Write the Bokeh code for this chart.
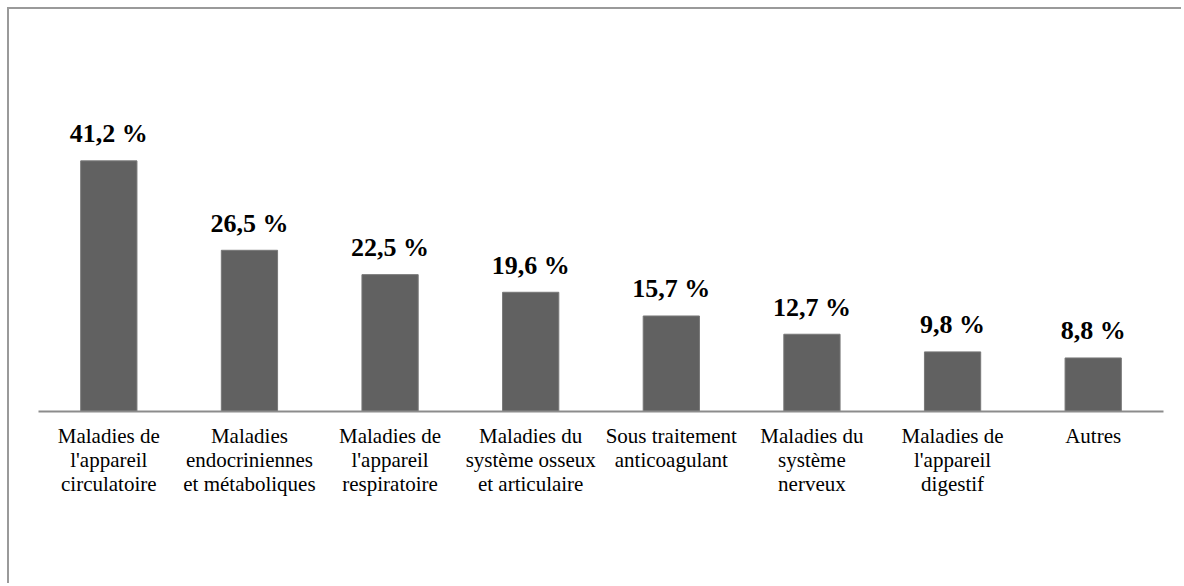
from bokeh.plotting import figure
from bokeh.models import ColumnDataSource, Range1d, FactorRange, CategoricalAxis, CustomJSTickFormatter
from bokeh.core.properties import value
from bokeh.embed import file_html
from bokeh.resources import INLINE

categories = [
    "Maladies de l'appareil circulatoire",
    "Maladies endocriniennes et métaboliques",
    "Maladies de l'appareil respiratoire",
    "Maladies du système osseux et articulaire",
    "Sous traitement anticoagulant",
    "Maladies du système nerveux",
    "Maladies de l'appareil digestif",
    "Autres",
]
label_lines = [
    ["Maladies de", "l'appareil", "circulatoire"],
    ["Maladies", "endocriniennes", "et métaboliques"],
    ["Maladies de", "l'appareil", "respiratoire"],
    ["Maladies du", "système osseux", "et articulaire"],
    ["Sous traitement", "anticoagulant", ""],
    ["Maladies du", "système", "nerveux"],
    ["Maladies de", "l'appareil", "digestif"],
    ["Autres", "", ""],
]
values = [41.2, 26.5, 22.5, 19.6, 15.7, 12.7, 9.8, 8.8]
value_labels = ["41,2 %", "26,5 %", "22,5 %", "19,6 %", "15,7 %", "12,7 %", "9,8 %", "8,8 %"]

source = ColumnDataSource(data=dict(cat=categories, val=values, lab=value_labels))

p = figure(
    x_range=FactorRange(factors=categories),
    y_range=Range1d(0, 60),
    width=1174, height=576,
    output_backend="svg", toolbar_location=None,
    min_border_left=29, min_border_right=20,
    min_border_top=37, min_border_bottom=174,
)
p.styles = {"border-top": "2px solid #9a9a9a", "border-left": "2px solid #9a9a9a",
            "margin-left": "7px", "margin-top": "7px"}

p.vbar(x="cat", top="val", width=0.4, source=source,
       fill_color="#616161", line_color="#787878", line_width=1)
p.text(x="cat", y="val", text="lab", source=source,
       text_align="center", text_baseline="alphabetic", y_offset=-27,
       text_font=value("Liberation Serif"), text_font_style="bold",
       text_font_size="26px", text_color="black")

p.yaxis.visible = False
p.xgrid.visible = False
p.ygrid.visible = False
p.outline_line_color = None


def style_axis(ax, line_idx):
    ax.major_tick_line_color = None
    ax.minor_tick_line_color = None
    ax.major_tick_out = 0
    ax.major_tick_in = 0
    ax.major_label_text_font = "Liberation Serif"
    ax.major_label_text_font_size = "21px"
    ax.major_label_text_color = "black"
    ax.major_label_orientation = "horizontal"
    ax.formatter = CustomJSTickFormatter(
        args=dict(cats=categories, lines=[l[line_idx] for l in label_lines]),
        code="const k = cats.indexOf(tick); return k >= 0 ? lines[k] : '';",
    )


ax1 = p.xaxis[0]
style_axis(ax1, 0)
ax1.axis_line_color = "#8c8c8c"
ax1.axis_line_width = 2
ax1.major_label_standoff = 12

for i in (1, 2):
    ax = CategoricalAxis()
    style_axis(ax, i)
    ax.axis_line_color = None
    ax.major_label_standoff = -3
    p.add_layout(ax, "below")

open("out.html", "w").write(file_html(p, INLINE))
